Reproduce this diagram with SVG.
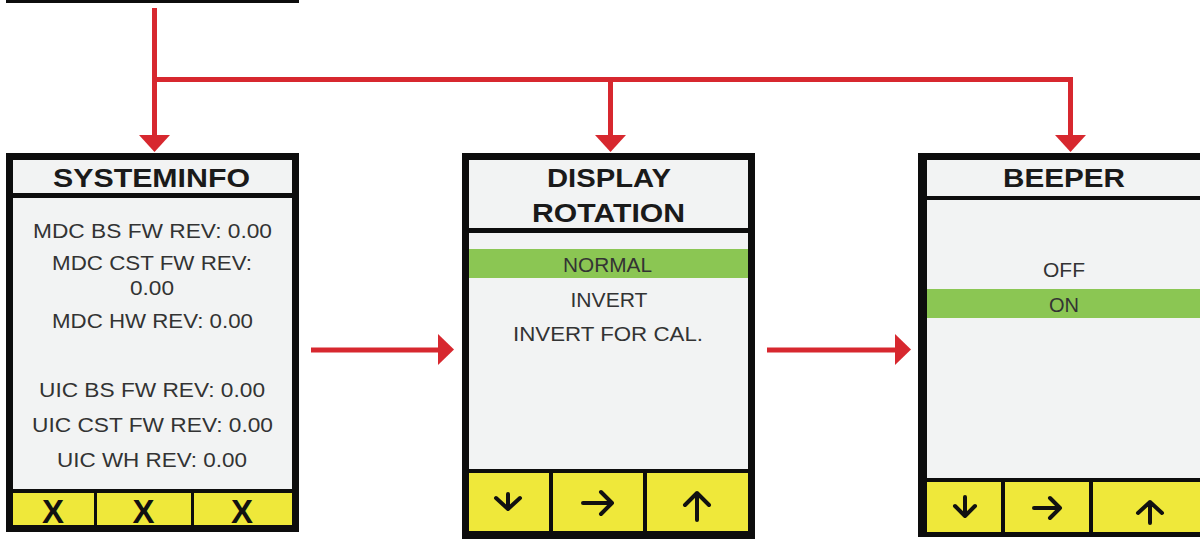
<svg xmlns="http://www.w3.org/2000/svg" width="1200" height="539" viewBox="0 0 1200 539">
  <defs>
    <style>
      .frame { fill: #0d0d0d; }
      .panel { fill: #f2f3f3; }
      .keys { fill: #efe83a; }
      .sel { fill: #8bc653; }
      .title { font-family: "Liberation Sans", Arial, sans-serif; font-weight: bold; font-size: 26px; fill: #1a1a1a; text-anchor: middle; }
      .item { font-family: "Liberation Sans", Arial, sans-serif; font-size: 20px; fill: #333333; text-anchor: middle; }
      .xkey { font-family: "Liberation Sans", Arial, sans-serif; font-weight: bold; font-size: 33px; fill: #111111; text-anchor: middle; }
      .glyph { fill: none; stroke: #111111; stroke-width: 4; stroke-linecap: round; stroke-linejoin: round; }
      .wire { fill: none; stroke: #d7282f; stroke-width: 5; }
      .head { fill: #d7282f; }
    </style>
  </defs>

  <rect width="1200" height="539" fill="#ffffff"/>

  <!-- bottom edge of the parent screen -->
  <g id="parent-screen">
    <rect x="6" y="0" width="293" height="3" class="frame"/>
  </g>

  <!-- connectors -->
  <g id="connectors">
    <path class="wire" d="M154.5 8 V137"/>
    <path class="wire" d="M152 79.5 H1070.5 V137"/>
    <path class="wire" d="M610.5 79.5 V137"/>
    <polygon class="head" points="139,135 170,135 154.5,152"/>
    <polygon class="head" points="595,135 626,135 610.5,152"/>
    <polygon class="head" points="1055,135 1086,135 1070.5,152"/>
    <path class="wire" d="M311 350 H440"/>
    <polygon class="head" points="438,334 454,349.5 438,365"/>
    <path class="wire" d="M767 350 H897"/>
    <polygon class="head" points="895,334 911,349.5 895,365"/>
  </g>

  <!-- SYSTEM INFO screen -->
  <g id="system-info">
    <rect x="6" y="153" width="293" height="379" class="frame"/>
    <rect x="13" y="160" width="279" height="33" class="panel"/>
    <rect x="13" y="198" width="279" height="291" class="panel"/>
    <rect x="13" y="493" width="279" height="32" class="keys"/>
    <rect x="94" y="493" width="3" height="32" class="frame"/>
    <rect x="191" y="493" width="3" height="32" class="frame"/>
    <text class="title" x="151.5" y="187" textLength="197" lengthAdjust="spacingAndGlyphs">SYSTEMINFO</text>
    <text class="item" x="152.5" y="238" textLength="239" lengthAdjust="spacingAndGlyphs">MDC BS FW REV: 0.00</text>
    <text class="item" x="152" y="270" textLength="200" lengthAdjust="spacingAndGlyphs">MDC CST FW REV:</text>
    <text class="item" x="152" y="295" textLength="44" lengthAdjust="spacingAndGlyphs">0.00</text>
    <text class="item" x="152.5" y="328" textLength="201" lengthAdjust="spacingAndGlyphs">MDC HW REV: 0.00</text>
    <text class="item" x="152" y="397" textLength="226" lengthAdjust="spacingAndGlyphs">UIC BS FW REV: 0.00</text>
    <text class="item" x="152.5" y="432" textLength="241" lengthAdjust="spacingAndGlyphs">UIC CST FW REV: 0.00</text>
    <text class="item" x="152" y="467" textLength="190" lengthAdjust="spacingAndGlyphs">UIC WH REV: 0.00</text>
    <text class="xkey" x="53" y="523">X</text>
    <text class="xkey" x="143.5" y="523">X</text>
    <text class="xkey" x="242" y="523">X</text>
  </g>

  <!-- DISPLAY ROTATION screen -->
  <g id="display-rotation">
    <rect x="462" y="153" width="293" height="386" class="frame"/>
    <rect x="469" y="160" width="279" height="68" class="panel"/>
    <rect x="469" y="233" width="279" height="236" class="panel"/>
    <rect x="469" y="249" width="279" height="29" class="sel"/>
    <rect x="469" y="473" width="279" height="58" class="keys"/>
    <rect x="549" y="473" width="4" height="58" class="frame"/>
    <rect x="643" y="473" width="4" height="58" class="frame"/>
    <text class="title" x="609" y="187" textLength="124" lengthAdjust="spacingAndGlyphs">DISPLAY</text>
    <text class="title" x="608.5" y="222" textLength="153" lengthAdjust="spacingAndGlyphs">ROTATION</text>
    <text class="item" x="607.5" y="272" textLength="89" lengthAdjust="spacingAndGlyphs">NORMAL</text>
    <text class="item" x="609" y="307" textLength="77" lengthAdjust="spacingAndGlyphs">INVERT</text>
    <text class="item" x="608" y="341" textLength="190" lengthAdjust="spacingAndGlyphs">INVERT FOR CAL.</text>
    <path class="glyph" d="M508 494 V509 M496 498 L508 509 L520 498"/>
    <path class="glyph" d="M583 503 H612 M601 492 L612 503 L601 514"/>
    <path class="glyph" d="M697 520 V493 M685 505 L697 493 L709 505"/>
  </g>

  <!-- BEEPER screen -->
  <g id="beeper">
    <rect x="918" y="153" width="300" height="384" class="frame"/>
    <rect x="927" y="160" width="273" height="36" class="panel"/>
    <rect x="927" y="200" width="273" height="278" class="panel"/>
    <rect x="927" y="289" width="273" height="29" class="sel"/>
    <rect x="927" y="482" width="273" height="50" class="keys"/>
    <rect x="1001" y="482" width="4" height="50" class="frame"/>
    <rect x="1089" y="482" width="4" height="50" class="frame"/>
    <text class="title" x="1064" y="187" textLength="122" lengthAdjust="spacingAndGlyphs">BEEPER</text>
    <text class="item" x="1064" y="277" textLength="42" lengthAdjust="spacingAndGlyphs">OFF</text>
    <text class="item" x="1064" y="312" textLength="30" lengthAdjust="spacingAndGlyphs">ON</text>
    <path class="glyph" d="M965 497 V516 M955 506 L965 516 L975 506"/>
    <path class="glyph" d="M1034 508 H1060 M1050 498 L1060 508 L1050 518"/>
    <path class="glyph" d="M1150 523 V502 M1138 513 L1150 502 L1162 513"/>
  </g>
</svg>
